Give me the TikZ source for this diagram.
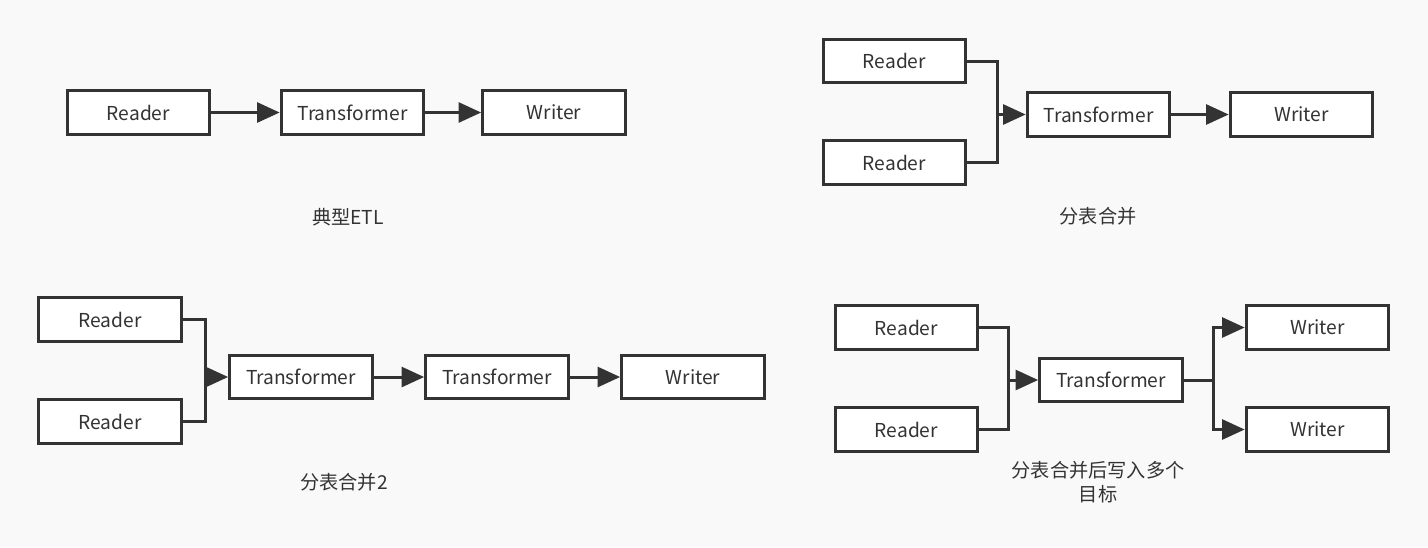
\documentclass[tikz,border=0pt]{standalone}
\usepackage{fontspec}
\setmainfont{Noto Sans CJK SC}
\usetikzlibrary{arrows.meta}
\definecolor{ink}{HTML}{333333}
\definecolor{paper}{HTML}{F9F9F9}
\tikzset{
  stage/.style={draw=ink, fill=white, line width=2.25pt, minimum width=107pt, minimum height=32.5pt, inner sep=0pt, text=ink, font=\fontsize{14.4}{17}\selectfont},
  flow/.style={draw=ink, line width=2.25pt, -{Triangle[length=17pt, width=15pt]}},
  mergeline/.style={draw=ink, line width=2.25pt},
  caption/.style={text=ink, align=center, font=\fontsize{14.4}{18}\selectfont}
}
\begin{document}
\begin{tikzpicture}[x=0.75pt,y=0.75pt,yscale=-1,xscale=1]
%background
\fill[paper] (0,0) rectangle (1428,547);
\useasboundingbox (0,0) rectangle (1428,547);

%Typical ETL
\node[stage] (etlR) at (138.5,112.5) {Reader};
\node[stage] (etlT) at (352.5,112.5) {Transformer};
\node[stage] (etlW) at (554,112.5) {Writer};
\draw[flow] (etlR) -- (etlT);
\draw[flow] (etlT) -- (etlW);
% Text Node
\node[caption] (etlC) at (348,217) {典型ETL};

%Merge
\node[stage] (mgR1) at (894.5,61) {Reader};
\node[stage] (mgR2) at (894.5,162.5) {Reader};
\node[stage] (mgT) at (1098.5,114.5) {Transformer};
\node[stage] (mgW) at (1301.5,114.5) {Writer};
\coordinate (mgJ) at (997,114.5);
\draw[mergeline] (mgR1.east) -| (mgJ);
\draw[mergeline] (mgR2.east) -| (mgJ);
\draw[flow] (mgJ) -- (mgT);
\draw[flow] (mgT) -- (mgW);
% Text Node
\node[caption] (mgC) at (1098,216) {分表合并};

%Merge 2
\node[stage] (m2R1) at (110,319.5) {Reader};
\node[stage] (m2R2) at (110,421.5) {Reader};
\node[stage] (m2T1) at (301,377) {Transformer};
\node[stage] (m2T2) at (497,377) {Transformer};
\node[stage] (m2W) at (693,377) {Writer};
\coordinate (m2J) at (205,377);
\draw[mergeline] (m2R1.east) -| (m2J);
\draw[mergeline] (m2R2.east) -| (m2J);
\draw[flow] (m2J) -- (m2T1);
\draw[flow] (m2T1) -- (m2T2);
\draw[flow] (m2T2) -- (m2W);
% Text Node
\node[caption] (m2C) at (344,482) {分表合并2};

%Merge then fan out
\node[stage] (foR1) at (906.5,327.5) {Reader};
\node[stage] (foR2) at (906.5,429.5) {Reader};
\node[stage] (foT) at (1111,380) {Transformer};
\node[stage] (foW1) at (1317.5,327.5) {Writer};
\node[stage] (foW2) at (1317.5,429.5) {Writer};
\coordinate (foJ) at (1008,380);
\coordinate (foS) at (1213,380);
\draw[mergeline] (foR1.east) -| (foJ);
\draw[mergeline] (foR2.east) -| (foJ);
\draw[flow] (foJ) -- (foT);
\draw[mergeline] (foT) -- (foS);
\draw[flow] (foS) |- (foW1);
\draw[flow] (foS) |- (foW2);
% Text Node
\node[caption] (foC) at (1098,482) {分表合并后写入多个\\目标};

\end{tikzpicture}
\end{document}
